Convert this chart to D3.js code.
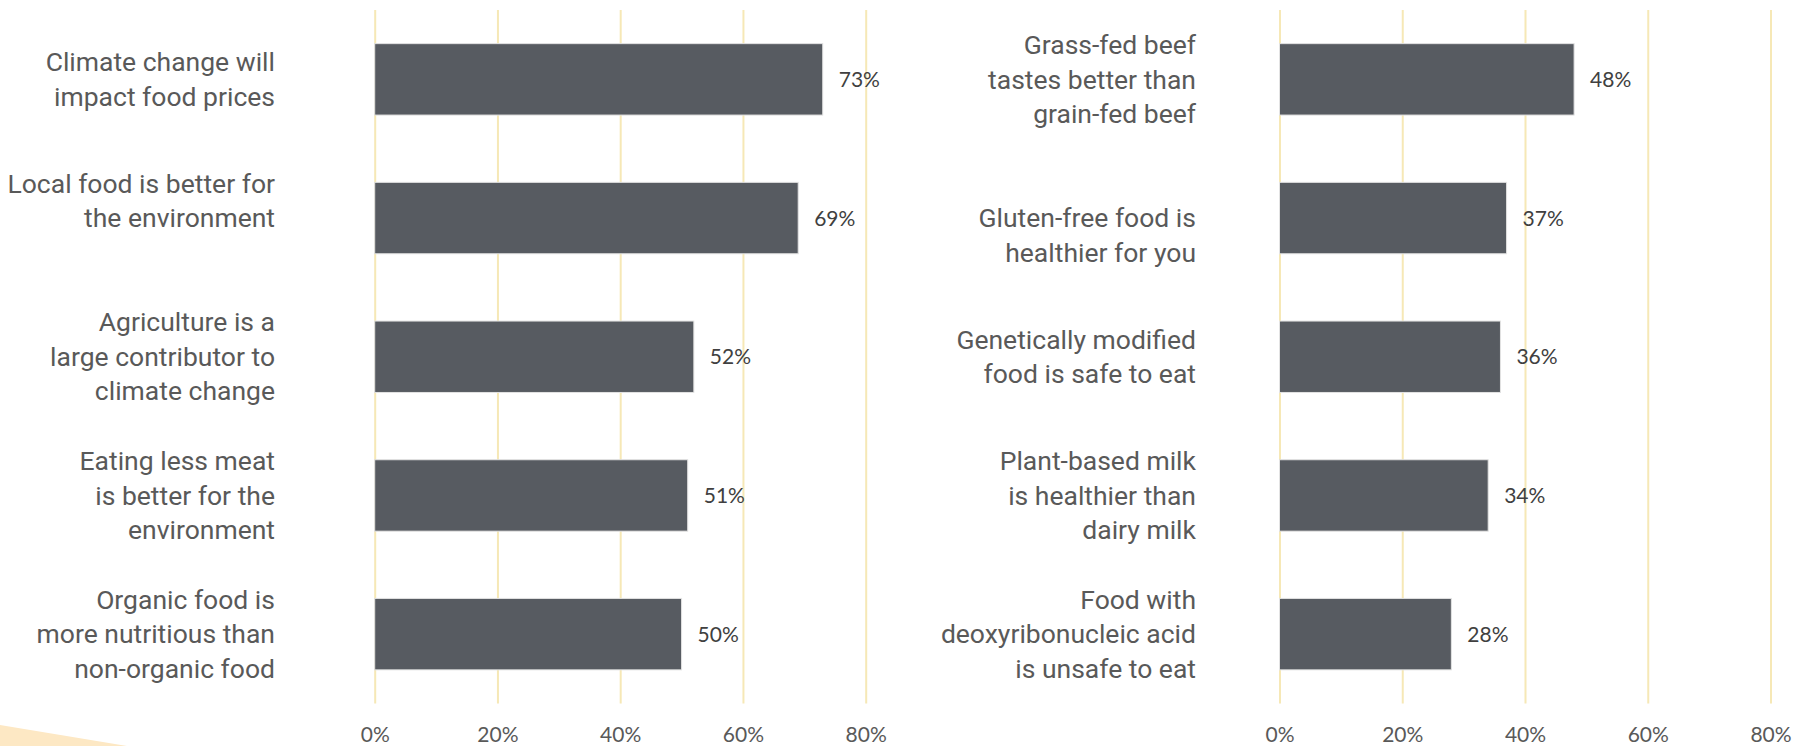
<!DOCTYPE html>
<html>
<head>
<meta charset="utf-8">
<script src="https://cdn.jsdelivr.net/npm/d3@7"></script>
<style>
  html, body { margin: 0; padding: 0; background: #ffffff; }
  svg { display: block; }
</style>
</head>
<body>
<svg id="chart" width="1805" height="746"></svg>
<script>
// ---- data ----
const leftCategories = [
  "Climate change will\nimpact food prices",
  "Local food is better for\nthe environment\n",
  "Agriculture is a\nlarge contributor to\nclimate change",
  "Eating less meat\nis better for the\nenvironment",
  "Organic food is\nmore nutritious than\nnon-organic food"
];
const leftValues = [73, 69, 52, 51, 50];

const rightCategories = [
  "Grass-fed beef\ntastes better than\ngrain-fed beef",
  "\nGluten-free food is\nhealthier for you",
  "Genetically modified\nfood is safe to eat",
  "Plant-based milk\nis healthier than\ndairy milk",
  "Food with\ndeoxyribonucleic acid\nis unsafe to eat"
];
const rightValues = [48, 37, 36, 34, 28];

const tickValues = [0, 20, 40, 60, 80];
const tickLabels = ["0%", "20%", "40%", "60%", "80%"];

// ---- layout ----
const svg = d3.select("#chart");
const plotTop = 10, plotBottom = 703.5;

// decorative wedge bottom-left
svg.append("path")
  .attr("d", "M0,725 L127,746 L0,746 Z")
  .attr("fill", "#fde8c4");

function panel(categories, values, x0, labelRight) {
  const x = d3.scaleLinear().domain([0, 80]).range([x0, x0 + 491]);
  const y = d3.scaleBand()
    .domain(d3.range(categories.length))
    .range([plotTop, plotBottom])
    .paddingInner(0.485)
    .paddingOuter(0.2425);

  const g = svg.append("g");

  // gridlines + tick labels through axis
  const axis = d3.axisBottom(x)
    .tickValues(tickValues)
    .tickFormat((d, i) => tickLabels[i])
    .tickSizeInner(-(plotBottom - plotTop))
    .tickSizeOuter(0)
    .tickPadding(23.5);
  const ax = g.append("g")
    .attr("transform", `translate(0,${plotBottom})`)
    .call(axis);
  ax.select(".domain").remove();
  ax.selectAll(".tick line")
    .attr("stroke", "#f6e8b6")
    .attr("stroke-width", 2);
  ax.selectAll(".tick text")
    .attr("fill", "#595959")
    .style("font-family", "Lato, 'Open Sans', sans-serif")
    .style("font-size", "21px");

  // bars
  g.selectAll("rect.bar")
    .data(values)
    .join("rect")
    .attr("class", "bar")
    .attr("x", x(0))
    .attr("y", (d, i) => y(i))
    .attr("width", d => x(d) - x(0))
    .attr("height", y.bandwidth())
    .attr("fill", "#575b61")
    .attr("stroke", "#e3e3e3")
    .attr("stroke-width", 1);

  // value labels
  g.selectAll("text.val")
    .data(values)
    .join("text")
    .attr("class", "val")
    .attr("x", d => x(d) + 16)
    .attr("y", (d, i) => y(i) + y.bandwidth() / 2 + 7.5)
    .attr("fill", "#404040")
    .style("font-family", "Lato, 'Open Sans', sans-serif")
    .style("font-size", "21px")
    .text(d => d + "%");

  // category labels
  const lineH = 34.5;
  categories.forEach((c, i) => {
    const lines = c.split("\n");
    const cy = y(i) + y.bandwidth() / 2;
    const startY = cy - (lines.length - 1) * lineH / 2;
    const t = g.append("text")
      .attr("text-anchor", "end")
      .attr("fill", "#595959")
      .style("font-family", "Roboto, 'Noto Sans', sans-serif")
      .style("font-size", "26.5px");
    lines.forEach((ln, k) => {
      t.append("tspan")
        .attr("x", labelRight)
        .attr("y", startY + k * lineH + 9.2)
        .text(ln);
    });
  });
}

panel(leftCategories, leftValues, 374.7, 275);
panel(rightCategories, rightValues, 1279.5, 1196);
</script>
</body>
</html>
